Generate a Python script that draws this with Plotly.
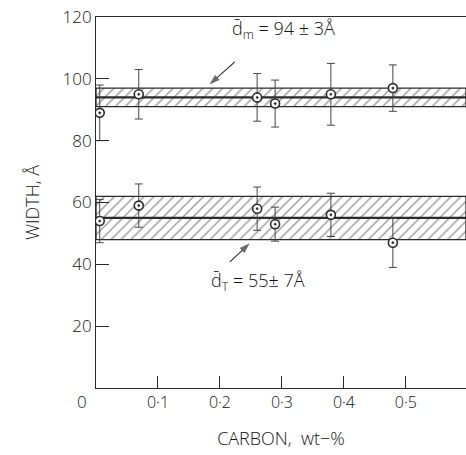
import plotly.graph_objects as go

# Carbon content (wt-%) of each specimen
carbon = [0.006, 0.069, 0.260, 0.289, 0.379, 0.479]

# Mean width of the m-type features (Å) and their scatter
width_m = [89, 95, 94, 92, 95, 97]
err_m = [9, 8, 7.7, 7.6, 10, 7.5]

# Mean width of the T-type features (Å) and their scatter
width_t = [54, 59, 58, 53, 56, 47]
err_t = [7, 7, 7, 5.5, 7, 8]

# Overall averages shown as hatched bands (mean ± spread)
mean_m, spread_m = 94, 3
mean_t, spread_t = 55, 7

x_ticks = [0.1, 0.2, 0.3, 0.4, 0.5]
x_tick_text = ["0·1", "0·2", "0·3", "0·4", "0·5"]
y_ticks = [20, 40, 60, 80, 100, 120]

X_MAX = 0.597
INK = "#2b2b2b"
TEXT = "#141414"
FONT = "Open Sans"
WEIGHT = 300

fig = go.Figure()


def add_band(mean, spread):
    lo, hi = mean - spread, mean + spread
    fig.add_trace(go.Scatter(
        x=[0, X_MAX, X_MAX, 0, 0], y=[lo, lo, hi, hi, lo],
        mode="lines", fill="toself", fillcolor="white",
        fillpattern=dict(shape="/", size=7, solidity=0.22,
                         fgcolor="#404040", bgcolor="white"),
        line=dict(color=INK, width=1.3),
        hoverinfo="skip", showlegend=False,
    ))
    fig.add_trace(go.Scatter(
        x=[0, X_MAX], y=[mean, mean], mode="lines",
        line=dict(color=INK, width=2.2),
        hoverinfo="skip", showlegend=False,
    ))


def add_points(values, errors):
    fig.add_trace(go.Scatter(
        x=carbon, y=values, mode="markers",
        marker=dict(symbol="circle-dot", size=9, color="white",
                    line=dict(color=INK, width=1.6)),
        error_y=dict(type="data", array=errors, visible=True,
                     color="#444444", thickness=1, width=4),
        showlegend=False,
    ))


def add_pointer(x0, y0, x1, y1):
    # straight pointer from (x0, y0) ending in an arrowhead at (x1, y1)
    fig.add_trace(go.Scatter(
        x=[x0, x1], y=[y0, y1], mode="lines+markers",
        line=dict(color=INK, width=1.1),
        marker=dict(symbol="arrow", size=[0, 11], angleref="previous",
                    color=INK, line=dict(width=0)),
        hoverinfo="skip", showlegend=False,
    ))


add_band(mean_m, spread_m)
add_band(mean_t, spread_t)
add_points(width_m, err_m)
add_points(width_t, err_t)
add_pointer(0.224, 105.5, 0.183, 98.2)
add_pointer(0.216, 40.8, 0.248, 46.8)

annot_font = dict(family=FONT, size=18, color=TEXT, weight=WEIGHT)

fig.add_annotation(x=0.302, y=116.0, xref="x", yref="y",
                   text=f"d\u0304<sub>m</sub> = {mean_m} ± {spread_m}Å",
                   showarrow=False, font=annot_font)
fig.add_annotation(x=0.261, y=34.3, xref="x", yref="y",
                   text=f"d\u0304<sub>T</sub> = {mean_t}± {spread_t}Å",
                   showarrow=False, font=annot_font)

# Shared origin label
fig.add_annotation(x=0, y=0, xref="x", yref="y", text="0",
                   showarrow=False, xshift=-14, yshift=-13,
                   font=dict(family=FONT, size=17, color=TEXT, weight=WEIGHT))

fig.update_xaxes(
    range=[0, X_MAX], tickvals=x_ticks, ticktext=x_tick_text,
    ticks="inside", ticklen=12, tickwidth=1, tickcolor=INK,
    showline=True, linecolor=INK, linewidth=1, mirror=True,
    showgrid=False, zeroline=False,
    tickfont=dict(family=FONT, size=16, color=TEXT, weight=WEIGHT),
    title=dict(text="CARBON,  wt−%", standoff=20,
               font=dict(family=FONT, size=18, color=TEXT, weight=WEIGHT)),
)
fig.update_yaxes(
    range=[0, 120], tickvals=y_ticks,
    ticks="inside", ticklen=13, tickwidth=1, tickcolor=INK,
    showline=True, linecolor=INK, linewidth=1,
    showgrid=False, zeroline=False,
    tickfont=dict(family=FONT, size=17, color=TEXT, weight=WEIGHT),
    title=dict(text="WIDTH, Å", standoff=18,
               font=dict(family=FONT, size=18, color=TEXT, weight=WEIGHT)),
)

fig.update_layout(
    width=466, height=455,
    margin=dict(l=96, r=0, t=17, b=67),
    paper_bgcolor="white", plot_bgcolor="white",
)

fig.write_html("out.html")
